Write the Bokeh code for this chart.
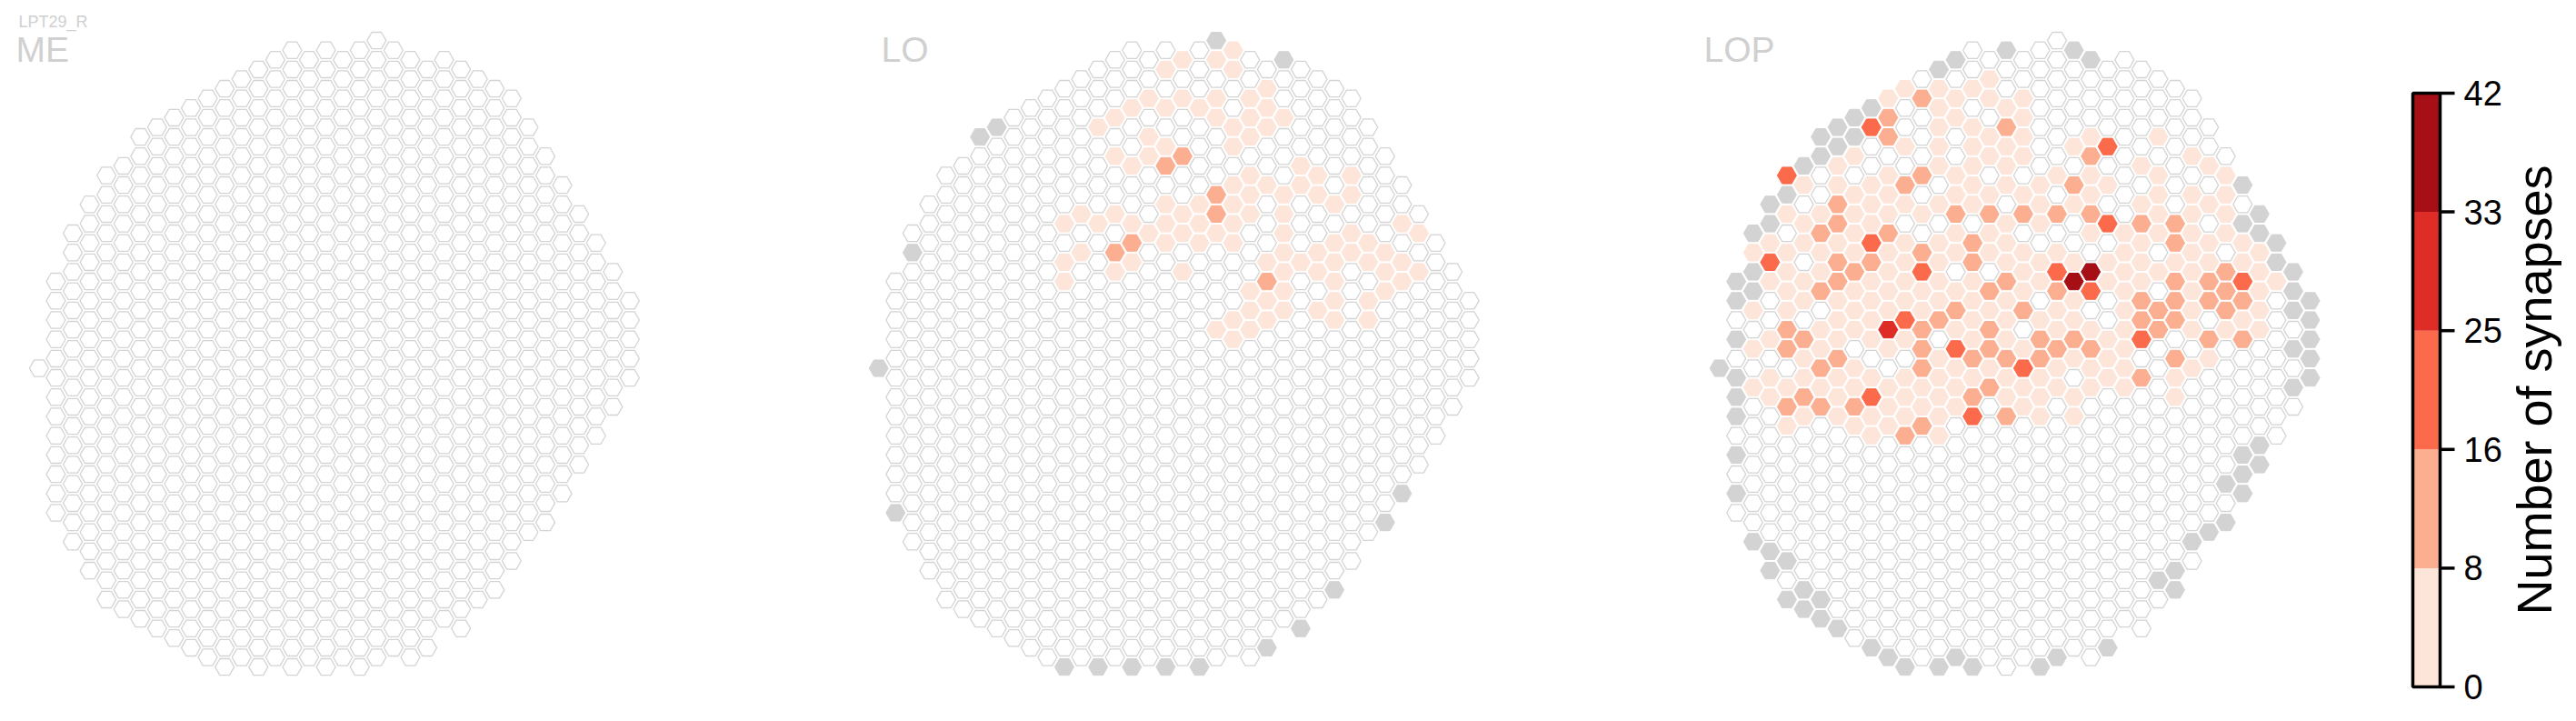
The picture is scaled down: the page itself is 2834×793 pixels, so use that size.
import math
from bokeh.plotting import figure
from bokeh.models import Range1d, ColumnDataSource, LinearColorMapper
from bokeh.transform import transform
from bokeh.palettes import Reds5
from bokeh.embed import file_html
from bokeh.resources import INLINE
from bokeh.core.properties import value

# ---------------- data ----------------
neuron = "LPT29_R"
panel_names = ["ME", "LO", "LOP"]

# hex-column grid: for each of the 36 grid columns, first and last row (half-row units)
col_top = [0, -9, -14, -17, -20, -21, -24, -25, -26, -27, -28, -29, -30, -31, -32, -33, -32, -33,
           -32, -33, -34, -33, -32, -31, -32, -31, -30, -29, -28, -25, -22, -19, -16, -13, -10, -7]
col_bottom = [0, 15, 18, 21, 24, 25, 26, 27, 28, 29, 30, 31, 30, 31, 30, 31, 30, 31,
              30, 31, 30, 29, 30, 29, 26, 27, 24, 23, 20, 17, 16, 13, 10, 7, 4, 1]

# columns absent from the neuropil (drawn grey)
me_missing = []
lo_missing = [(20, -34), (24, -32), (6, -24), (7, -25), (2, -12), (0, 0), (1, 15), (31, 13), (30, 16),
              (27, 23), (25, 27), (23, 29), (11, 31), (13, 31), (15, 31), (17, 31), (19, 31)]
lop_missing = [(0, 0), (1, -9), (1, -7), (1, -3), (1, 1), (1, 3), (1, 5), (1, 9), (1, 13), (2, -14), (2, -10),
               (2, -8), (2, 18), (3, -17), (3, -15), (3, 19), (3, 21), (4, -18), (4, 20), (4, 24), (5, -21),
               (5, 23), (5, 25), (6, -24), (6, -22), (6, 24), (6, 26), (7, -25), (7, -23), (7, 27), (8, -26),
               (8, -24), (9, -27), (9, 29), (10, 30), (11, 31), (13, -31), (13, 31), (14, -32), (14, 30),
               (15, 31), (17, -33), (19, 31), (20, 30), (21, -33), (22, -32), (23, 29), (26, 22), (27, 21),
               (27, 23), (28, 18), (29, 17), (30, 12), (30, 16), (31, -19), (31, -15), (31, 9), (31, 11),
               (31, 13), (32, -16), (32, -14), (32, 8), (32, 10), (33, -13), (33, -11), (34, -10), (34, -8),
               (34, -6), (34, -2), (34, 2), (35, -7), (35, -5), (35, -3), (35, -1), (35, 1)]

# synapse counts per column (col, row, synapses)
me_syn = []
lo_syn = [
    (21, -33, 4), (18, -32, 4), (20, -32, 4), (21, -31, 4), (17, -31, 4), (23, -29, 4), (16, -28, 4), (18, -28, 4),
    (20, -28, 4), (22, -28, 4), (15, -27, 4), (17, -27, 4), (19, -27, 4), (23, -27, 4), (14, -26, 4), (20, -26, 4),
    (22, -26, 4), (24, -26, 4), (13, -25, 4), (21, -25, 4), (23, -25, 4), (16, -24, 4), (22, -24, 4), (17, -23, 4),
    (21, -23, 4), (14, -22, 4), (16, -22, 4), (15, -21, 4), (25, -21, 4), (22, -20, 4), (26, -20, 4), (28, -20, 4),
    (21, -19, 4), (23, -19, 4), (25, -19, 4), (24, -18, 4), (26, -18, 4), (28, -18, 4), (22, -18, 4), (17, -17, 4),
    (19, -17, 4), (21, -17, 4), (27, -17, 4), (12, -16, 4), (14, -16, 4), (18, -16, 4), (22, -16, 4), (24, -16, 4),
    (11, -15, 4), (13, -15, 4), (15, -15, 4), (17, -15, 4), (19, -15, 4), (21, -15, 4), (31, -15, 4), (16, -14, 4),
    (18, -14, 4), (20, -14, 4), (24, -14, 4), (28, -14, 4), (32, -14, 4), (12, -12, 4), (17, -13, 4), (19, -13, 4),
    (21, -13, 4), (24, -12, 4), (25, -11, 4), (26, -12, 4), (27, -13, 4), (28, -12, 4), (29, -13, 4), (30, -12, 4),
    (31, -11, 4), (11, -11, 4), (15, -11, 4), (14, -10, 4), (18, -10, 4), (11, -9, 4), (23, -11, 4), (24, -10, 4),
    (26, -10, 4), (27, -11, 4), (29, -11, 4), (30, -10, 4), (31, -9, 4), (32, -10, 4), (27, -9, 4), (30, -8, 4),
    (22, -8, 4), (24, -8, 4), (23, -7, 4), (27, -7, 4), (29, -7, 4), (22, -6, 4), (24, -6, 4), (26, -6, 4),
    (27, -5, 4), (29, -5, 4), (21, -5, 4), (23, -5, 4), (20, -4, 4), (22, -4, 4), (21, -3, 4),
    (18, -22, 12), (17, -21, 12), (20, -18, 12), (20, -16, 12), (15, -13, 12), (14, -12, 12), (23, -9, 12)]
lop_syn = [
    (2, -12, 4), (2, -6, 4), (2, -2, 4), (2, 2, 4),
    (3, -13, 4), (3, -11, 20), (3, -9, 4), (3, -3, 4), (3, 1, 4), (3, 3, 4),
    (4, -20, 20), (4, -16, 4), (4, -12, 4), (4, -10, 4), (4, -8, 4), (4, -6, 4), (4, -4, 12), (4, -2, 12),
    (4, 2, 4), (4, 4, 12), (4, 6, 4),
    (5, -19, 4), (5, -15, 4), (5, -13, 4), (5, -9, 4), (5, -7, 4), (5, -3, 12), (5, -1, 4), (5, 1, 4),
    (5, 3, 12), (5, 5, 4),
    (6, -16, 4), (6, -14, 12), (6, -12, 4), (6, -10, 4), (6, -8, 12), (6, -4, 4), (6, -2, 4), (6, 0, 12),
    (6, 2, 4), (6, 4, 12),
    (7, -21, 4), (7, -19, 4), (7, -17, 12), (7, -15, 12), (7, -13, 4), (7, -11, 12), (7, -9, 12), (7, -7, 4),
    (7, -5, 4), (7, -3, 4), (7, -1, 12), (7, 1, 4), (7, 3, 4), (7, 5, 4),
    (8, -22, 4), (8, -18, 4), (8, -16, 4), (8, -14, 4), (8, -12, 4), (8, -10, 12), (8, -8, 4), (8, -6, 4),
    (8, -4, 4), (8, 0, 4), (8, 2, 4), (8, 4, 12), (8, 6, 4),
    (9, -25, 20), (9, -19, 4), (9, -17, 4), (9, -15, 4), (9, -13, 20), (9, -11, 12), (9, -9, 4), (9, -7, 4),
    (9, -5, 4), (9, -3, 4), (9, 1, 4), (9, 3, 20), (9, 5, 4), (9, 7, 4),
    (10, -28, 4), (10, -26, 12), (10, -24, 12), (10, -20, 4), (10, -18, 4), (10, -16, 4), (10, -14, 12),
    (10, -12, 4), (10, -10, 4), (10, -8, 4), (10, -6, 4), (10, -4, 29), (10, -2, 4), (10, 2, 4), (10, 4, 4),
    (10, 6, 4),
    (11, -29, 4), (11, -23, 4), (11, -19, 12), (11, -17, 4), (11, -13, 4), (11, -11, 4), (11, -9, 4),
    (11, -7, 4), (11, -5, 20), (11, -3, 4), (11, 1, 4), (11, 3, 4), (11, 5, 4), (11, 7, 12),
    (12, -28, 12), (12, -20, 12), (12, -16, 4), (12, -12, 12), (12, -10, 20), (12, -8, 4), (12, -6, 4),
    (12, -4, 12), (12, -2, 12), (12, 0, 12), (12, 2, 4), (12, 4, 4), (12, 6, 12),
    (13, -29, 4), (13, -27, 4), (13, -25, 4), (13, -23, 4), (13, -21, 4), (13, -17, 4), (13, -13, 4),
    (13, -11, 4), (13, -9, 4), (13, -7, 4), (13, -5, 12), (13, -1, 4), (13, 1, 4), (13, 3, 4), (13, 5, 4),
    (13, 7, 4),
    (14, -28, 4), (14, -26, 4), (14, -20, 4), (14, -18, 4), (14, -16, 12), (14, -14, 4), (14, -12, 4),
    (14, -8, 4), (14, -6, 12), (14, -4, 4), (14, -2, 20), (14, 0, 4), (14, 2, 4), (14, 4, 4),
    (15, -29, 4), (15, -25, 4), (15, -23, 4), (15, -21, 4), (15, -19, 4), (15, -17, 4), (15, -13, 12),
    (15, -11, 12), (15, -9, 4), (15, -7, 4), (15, -5, 4), (15, -3, 4), (15, -1, 12), (15, 1, 4), (15, 3, 12),
    (15, 5, 20),
    (16, -30, 4), (16, -28, 4), (16, -24, 4), (16, -22, 4), (16, -18, 4), (16, -16, 12), (16, -14, 4),
    (16, -12, 4), (16, -8, 12), (16, -6, 4), (16, -4, 12), (16, -2, 12), (16, 0, 4), (16, 2, 12),
    (17, -27, 4), (17, -25, 12), (17, -23, 4), (17, -21, 4), (17, -19, 4), (17, -15, 4), (17, -13, 4),
    (17, -11, 4), (17, -9, 12), (17, -7, 4), (17, -5, 4), (17, -3, 4), (17, -1, 12), (17, 1, 4), (17, 3, 4),
    (17, 5, 12),
    (18, -28, 4), (18, -26, 4), (18, -24, 4), (18, -22, 4), (18, -18, 4), (18, -16, 12), (18, -12, 4),
    (18, -10, 4), (18, -8, 4), (18, -6, 12), (18, -2, 4), (18, 0, 20), (18, 2, 4), (18, 4, 4),
    (19, -19, 4), (19, -17, 4), (19, -15, 4), (19, -11, 4), (19, -9, 4), (19, -5, 4), (19, -3, 12),
    (19, -1, 12), (19, 1, 4), (19, 3, 4), (19, 5, 4),
    (20, -20, 4), (20, -16, 12), (20, -12, 4), (20, -10, 20), (20, -8, 12), (20, -6, 4), (20, -4, 4),
    (20, -2, 12), (20, 0, 4), (20, 2, 4),
    (21, -23, 4), (21, -19, 12), (21, -17, 4), (21, -11, 4), (21, -9, 38), (21, -7, 4), (21, -5, 4),
    (21, -3, 12), (21, -1, 4), (21, 3, 4), (21, 5, 4),
    (22, -24, 4), (22, -22, 12), (22, -20, 4), (22, -18, 4), (22, -16, 12), (22, -14, 4), (22, -10, 38),
    (22, -8, 20), (22, -4, 4), (22, -2, 12), (22, 0, 4), (22, 2, 4),
    (23, -23, 20), (23, -19, 4), (23, -15, 20), (23, -11, 4), (23, -9, 4), (23, -3, 4), (23, -1, 4), (23, 1, 4),
    (24, -14, 4), (24, -12, 4), (24, -10, 4), (24, -8, 4), (24, -6, 4), (24, -4, 4), (24, -2, 4), (24, 0, 4),
    (24, 2, 4),
    (25, -21, 4), (25, -17, 4), (25, -15, 12), (25, -13, 4), (25, -11, 4), (25, -9, 4), (25, -7, 12),
    (25, -5, 12), (25, -3, 20), (25, 1, 12),
    (26, -24, 4), (26, -20, 4), (26, -18, 4), (26, -16, 4), (26, -14, 4), (26, -10, 4), (26, -6, 12), (26, -4, 12),
    (27, -15, 12), (27, -13, 12), (27, -11, 4), (27, -9, 12), (27, -7, 12), (27, -5, 12), (27, -1, 12),
    (27, 1, 4), (27, 3, 4),
    (28, -22, 4), (28, -18, 4), (28, -16, 4), (28, -14, 4), (28, -12, 4), (28, -10, 4), (28, -8, 4),
    (28, -6, 4), (28, -4, 4), (28, 0, 4),
    (29, -21, 4), (29, -17, 4), (29, -13, 4), (29, -11, 4), (29, -9, 12), (29, -7, 12), (29, -3, 12), (29, -1, 4),
    (30, -20, 4), (30, -18, 4), (30, -16, 4), (30, -14, 4), (30, -10, 12), (30, -8, 12), (30, -6, 12), (30, -4, 4),
    (31, -13, 4), (31, -11, 4), (31, -9, 20), (31, -7, 12), (31, -5, 4), (31, -3, 12),
    (32, -12, 4), (32, -10, 4), (32, -8, 4), (32, -6, 4), (32, -4, 4),
    (33, -9, 4)]

panel_syn = [me_syn, lo_syn, lop_syn]
panel_missing = [me_missing, lo_missing, lop_missing]

syn_max = 42
cbar_ticks = [0, 8.4, 16.8, 25.2, 33.6, 42]
cbar_labels = ["0", "8", "16", "25", "33", "42"]
cbar_title = "Number of synapses"

# ---------------- layout / style ----------------
W, H = 2818, 777
PANEL_X0 = [50.4, 974.2, 1899.1]
TITLE_X = [25, 977, 1882]
DX, DY, Y0 = 18.57, 10.6, 412.5
HEX_SIZE = 21
palette = list(reversed(Reds5))
TITLE_COLOR = "#d0d0d0"
FONT = "Liberation Sans"

CB_L, CB_R, CB_TOP, CB_BOT = 2662, 2692, 110, 763

p = figure(width=W, height=H, x_range=Range1d(8, 8 + W), y_range=Range1d(8 + H, 8),
           toolbar_location=None, output_backend="svg", min_border=0,
           x_axis_location=None, y_axis_location=None)
p.grid.visible = False
p.outline_line_color = None
p.background_fill_color = "white"

mapper = LinearColorMapper(palette=palette, low=0, high=syn_max)

for k in range(3):
    syn = {(c, h): n for c, h, n in panel_syn[k]}
    miss = set(panel_missing[k])
    wx, wy, gx, gy, cx, cy, cn = [], [], [], [], [], [], []
    for c in range(len(col_top)):
        for h in range(col_top[c], col_bottom[c] + 1, 2):
            x = PANEL_X0[k] + c * DX
            y = Y0 + h * DY
            if (c, h) in miss:
                gx.append(x); gy.append(y)
            elif (c, h) in syn:
                cx.append(x); cy.append(y); cn.append(syn[(c, h)])
            else:
                wx.append(x); wy.append(y)
    p.scatter(wx, wy, marker="hex", size=HEX_SIZE, fill_color="white",
              line_color="#d4d4d4", line_width=1.3)
    p.scatter(gx, gy, marker="hex", size=HEX_SIZE, fill_color="#d3d3d3",
              line_color="#d3d3d3", line_width=1.0)
    src = ColumnDataSource(dict(x=cx, y=cy, syn=cn))
    p.scatter("x", "y", source=src, marker="hex", size=HEX_SIZE,
              fill_color=transform("syn", mapper), line_color=transform("syn", mapper), line_width=1.0)
    p.text(x=[TITLE_X[k]], y=[62], text=[panel_names[k]], text_font=value(FONT),
           text_font_size="39px", text_color=TITLE_COLOR, text_baseline="alphabetic")

p.text(x=[28], y=[31], text=[neuron], text_font=value(FONT), text_font_size="18px",
       text_color=TITLE_COLOR, text_baseline="alphabetic")

# colour bar in its own value range (0..42) mapped onto the bar's pixel span
f0 = (8 + H - CB_BOT) / H
f1 = (8 + H - CB_TOP) / H
span = syn_max / (f1 - f0)
start = -f0 * span
p.extra_y_ranges = {"cb": Range1d(start, start + span)}
edges = [i * syn_max / len(palette) for i in range(len(palette) + 1)]
p.quad(left=CB_L, right=CB_R, bottom=edges[:-1], top=edges[1:], fill_color=palette,
       line_color=None, y_range_name="cb")
p.quad(left=[CB_L], right=[CB_R], bottom=[0], top=[syn_max], fill_color=None,
       line_color="black", line_width=3.5, y_range_name="cb")
p.segment(x0=[CB_R] * len(cbar_ticks), x1=[CB_R + 16] * len(cbar_ticks), y0=cbar_ticks, y1=cbar_ticks,
          line_color="black", line_width=3.5, y_range_name="cb")
p.text(x=[CB_R + 26] * len(cbar_ticks), y=cbar_ticks, text=cbar_labels, text_font=value(FONT),
       text_font_size="38px", text_color="black", text_baseline="middle", y_range_name="cb")
p.text(x=[2795], y=[(CB_TOP + CB_BOT) / 2], text=[cbar_title], angle=math.pi / 2,
       text_font=value(FONT), text_font_size="54px", text_color="black",
       text_align="center", text_baseline="middle")

open("out.html", "w").write(file_html(p, INLINE))
